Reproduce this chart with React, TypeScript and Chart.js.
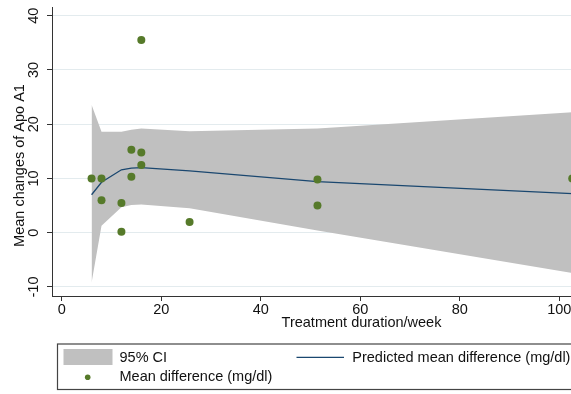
import { useEffect, useRef } from 'react';
import { Chart, registerables } from 'chart.js';

Chart.register(...registerables);

// ---- data ----
const bandWeeks = [6, 8, 12, 14, 16, 25.7, 51.4, 102.6];
const ciLower = [-9.2, 1.3, 4.7, 5.1, 5.2, 4.5, 0.4, -7.4];
const ciUpper = [23.6, 18.6, 18.6, 19.0, 19.2, 18.7, 19.2, 22.2];
const predicted = [7.0, 9.3, 11.6, 11.9, 12.0, 11.4, 9.4, 7.2];

const studyWeeks = [6, 8, 8, 12, 12, 14, 14, 16, 16, 16, 25.7, 51.4, 51.4, 102.6];
const meanDiff = [10, 10, 6, 5.5, 0.2, 10.3, 15.3, 14.8, 12.5, 35.5, 2, 9.8, 5, 10];

const xTicks = [0, 20, 40, 60, 80, 100, 120];
const yTicks = [-10, 0, 10, 20, 30, 40];

const xTitle = 'Treatment duration/week';
const yTitle = 'Mean changes of Apo A1';
const ciLabel = '95% CI';
const lineLabel = 'Predicted mean difference (mg/dl)';
const dotLabel = 'Mean difference (mg/dl)';

const FONT = "'Liberation Sans', Arial, sans-serif";
const FS = 14.5;
const TEXT = '#111111';
const AXIS = '#333333';
const GRID = '#e3ebee';
const BAND = '#c0c0c0';
const NAVY = '#1a476f';
const GREEN = '#567a2a';

const pts = (xs: number[], ys: number[]) => xs.map((x, i) => ({ x, y: ys[i] }));

const overlayPlugin = {
  id: 'overlay',
  afterDraw(chart: any) {
    const ctx = chart.ctx as CanvasRenderingContext2D;
    const ds = chart.data.datasets;
    ctx.save();
    ctx.font = `${FS}px ${FONT}`;
    ctx.fillStyle = TEXT;
    // y title
    ctx.save();
    ctx.translate(20, 165.5);
    ctx.rotate(-Math.PI / 2);
    ctx.textAlign = 'center';
    ctx.textBaseline = 'middle';
    ctx.fillText(yTitle, 0, 0);
    ctx.restore();

    // legend box
    const area = chart.chartArea;
    const cx = (area.left + area.right) / 2;
    const left = 57.5;
    const right = cx * 2 - left;
    ctx.strokeStyle = '#444444';
    ctx.lineWidth = 1.2;
    ctx.strokeRect(left, 344, right - left, 45.5);

    // CI swatch
    ctx.fillStyle = ds[1].backgroundColor;
    ctx.fillRect(63.5, 349, 49, 16);
    // line swatch
    ctx.strokeStyle = ds[2].borderColor;
    ctx.lineWidth = ds[2].borderWidth;
    ctx.beginPath();
    ctx.moveTo(296.5, 357.3);
    ctx.lineTo(344, 357.3);
    ctx.stroke();
    // dot swatch
    ctx.fillStyle = ds[3].backgroundColor;
    ctx.beginPath();
    ctx.arc(87.7, 377.3, 2.8, 0, Math.PI * 2);
    ctx.fill();

    ctx.fillStyle = TEXT;
    ctx.textAlign = 'left';
    ctx.textBaseline = 'middle';
    ctx.fillText(ds[1].label, 119.5, 357.6);
    ctx.fillText(ds[2].label, 352.3, 357.6);
    ctx.fillText(ds[3].label, 119.5, 377);
    ctx.restore();
  },
};

export default function App() {
  const ref = useRef<HTMLCanvasElement | null>(null);

  useEffect(() => {
    if (!ref.current) return;
    const chart = new Chart(ref.current, {
      type: 'line',
      data: {
        datasets: [
          {
            label: 'CI lower',
            data: pts(bandWeeks, ciLower),
            borderWidth: 0,
            pointRadius: 0,
            fill: false,
            order: 3,
          },
          {
            label: ciLabel,
            data: pts(bandWeeks, ciUpper),
            borderWidth: 0,
            pointRadius: 0,
            backgroundColor: BAND,
            fill: '-1',
            order: 2,
          },
          {
            label: lineLabel,
            data: pts(bandWeeks, predicted),
            borderColor: NAVY,
            borderWidth: 1.3,
            pointRadius: 0,
            fill: false,
            order: 1,
          },
          {
            label: dotLabel,
            data: pts(studyWeeks, meanDiff),
            showLine: false,
            pointRadius: 4,
            pointBorderWidth: 0,
            backgroundColor: GREEN,
            pointBackgroundColor: GREEN,
            borderColor: GREEN,
            order: 0,
          },
        ],
      },
      options: {
        animation: false,
        responsive: false,
        maintainAspectRatio: false,
        layout: { padding: { top: 7, right: 19, left: 0, bottom: 0 } },
        font: { family: FONT, size: FS },
        plugins: {
          legend: { display: false },
          tooltip: { enabled: false },
        },
        scales: {
          x: {
            type: 'linear',
            min: -1.95,
            max: 122.45,
            border: { display: true, color: AXIS, width: 1 },
            grid: { display: true, drawOnChartArea: false, drawTicks: true, tickLength: 5, tickColor: AXIS },
            ticks: { stepSize: 20, padding: 0, maxRotation: 0, color: TEXT, font: { family: FONT, size: FS } },
            title: {
              display: true,
              text: xTitle,
              color: TEXT,
              font: { family: FONT, size: FS },
              padding: { top: 0, bottom: 62 },
            },
            afterBuildTicks: (s: any) => {
              s.ticks = xTicks.map((v) => ({ value: v }));
            },
            afterFit: (s: any) => {
              s.height = 98;
              s.paddingLeft = 0;
              s.paddingRight = 0;
            },
          },
          y: {
            type: 'linear',
            min: -11.66,
            max: 41.6,
            border: { display: true, color: AXIS, width: 1 },
            grid: { color: GRID, lineWidth: 1, drawTicks: true, tickLength: 5, tickColor: AXIS },
            ticks: {
              stepSize: 10,
              padding: 3,
              minRotation: 90,
              maxRotation: 90,
              crossAlign: 'center',
              color: TEXT,
              font: { family: FONT, size: FS },
            },
            afterBuildTicks: (s: any) => {
              s.ticks = yTicks.map((v) => ({ value: v }));
            },
            afterFit: (s: any) => {
              s.width = 52;
              s.paddingTop = 0;
              s.paddingBottom = 0;
            },
          },
        },
      } as any,
      plugins: [overlayPlugin],
    });
    return () => chart.destroy();
  }, []);

  return (
    <div
      style={{
        position: 'absolute',
        left: 0,
        top: 0,
        width: 571,
        height: 394,
        overflow: 'hidden',
        background: '#ffffff',
      }}
    >
      <canvas ref={ref} width={690} height={394} style={{ width: 690, height: 394, display: 'block' }} />
    </div>
  );
}
